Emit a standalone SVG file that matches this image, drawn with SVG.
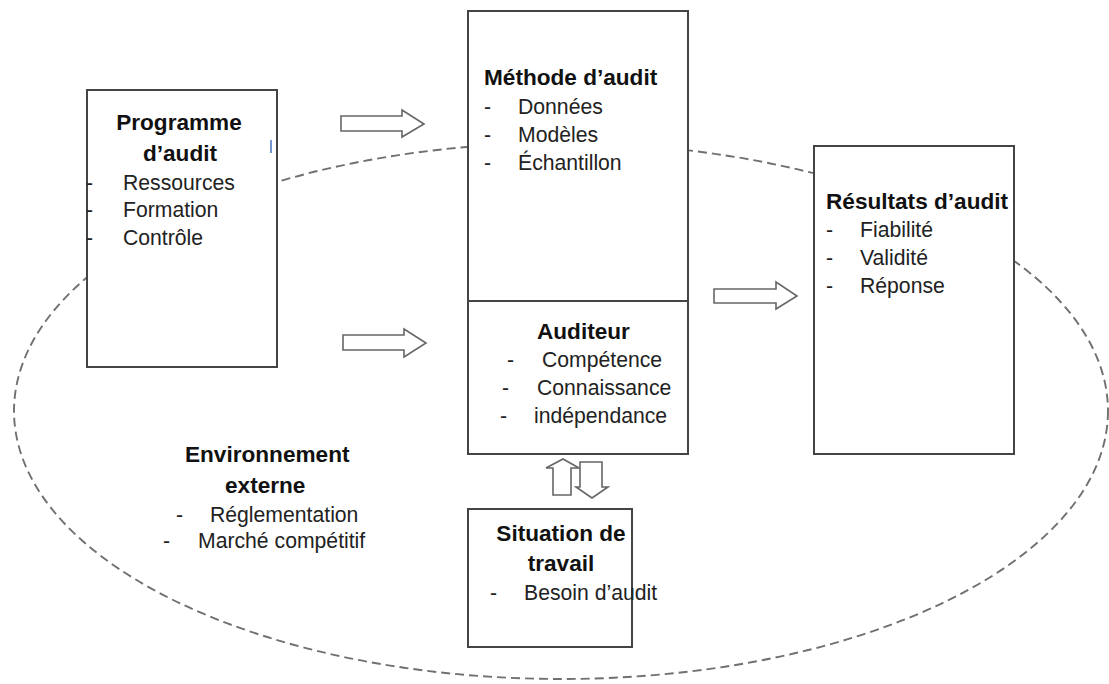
<svg xmlns="http://www.w3.org/2000/svg" width="1109" height="684" viewBox="0 0 1109 684">
<style>
.box{fill:#fff;stroke:#444;stroke-width:2}
.arr{fill:#fff;stroke:#666;stroke-width:1.6;stroke-linejoin:miter}
.env{fill:none;stroke:#707070;stroke-width:1.9;stroke-dasharray:9 5}
text{font-family:"Liberation Sans",Arial,sans-serif;fill:#111}
.h{font-size:22.6px;font-weight:bold}
.t{font-size:21.2px;fill:#222}
</style>
<rect width="1109" height="684" fill="#fff"/>
<g id="environnement">
<ellipse class="env" cx="561" cy="411" rx="547" ry="268"/>
<text class="h" x="185" y="462">Environnement</text>
<text class="h" x="225" y="493">externe</text>
<text class="t" x="176" y="522">-</text>
<text class="t" x="210" y="522">Réglementation</text>
<text class="t" x="163" y="548">-</text>
<text class="t" x="198" y="548">Marché compétitif</text>
</g>
<g id="programme">
<rect class="box" x="87" y="90" width="190" height="277"/>
<line x1="271" y1="140" x2="271" y2="153" stroke="#4472c4" stroke-width="1.5"/>
<text class="h" x="179" y="130" text-anchor="middle">Programme</text>
<text class="h" x="180" y="161" text-anchor="middle">d’audit</text>
<text class="t" x="86" y="190">-</text>
<text class="t" x="123" y="190">Ressources</text>
<text class="t" x="86" y="217">-</text>
<text class="t" x="123" y="217">Formation</text>
<text class="t" x="86" y="245">-</text>
<text class="t" x="123" y="245">Contrôle</text>
</g>
<g id="methode">
<rect class="box" x="468" y="11" width="220" height="443"/>
<line x1="468" y1="301" x2="688" y2="301" stroke="#444" stroke-width="2"/>
<text class="h" x="484" y="85">Méthode d’audit</text>
<text class="t" x="484" y="114">-</text>
<text class="t" x="518" y="114">Données</text>
<text class="t" x="484" y="142">-</text>
<text class="t" x="518" y="142">Modèles</text>
<text class="t" x="484" y="170">-</text>
<text class="t" x="518" y="170">Échantillon</text>
</g>
<g id="auditeur">
<text class="h" x="537" y="339">Auditeur</text>
<text class="t" x="507" y="367">-</text>
<text class="t" x="542" y="367">Compétence</text>
<text class="t" x="502" y="395">-</text>
<text class="t" x="537" y="395">Connaissance</text>
<text class="t" x="500" y="423">-</text>
<text class="t" x="534" y="423">indépendance</text>
</g>
<g id="resultats">
<rect class="box" x="814" y="146" width="200" height="308"/>
<text class="h" x="826" y="209">Résultats d’audit</text>
<text class="t" x="826" y="237">-</text>
<text class="t" x="860" y="237">Fiabilité</text>
<text class="t" x="826" y="265">-</text>
<text class="t" x="860" y="265">Validité</text>
<text class="t" x="826" y="293">-</text>
<text class="t" x="860" y="293">Réponse</text>
</g>
<g id="situation">
<rect class="box" x="468" y="509" width="164" height="138"/>
<text class="h" x="561" y="541" text-anchor="middle">Situation de</text>
<text class="h" x="561" y="571" text-anchor="middle">travail</text>
<text class="t" x="490" y="600">-</text>
<text class="t" x="524" y="600">Besoin d’audit</text>
</g>
<g id="connecteurs">
<polygon class="arr" points="341,116 402,116 402,110 424,124 402,137 402,131 341,131"/>
<polygon class="arr" points="343,335 404,335 404,329 426,343 404,357 404,350 343,350"/>
<polygon class="arr" points="714,289 776,289 776,282 797,296 776,309 776,303 714,303"/>
<polygon class="arr" points="553,495 553,468 546,468 563,459 579,468 571,468 571,495"/>
<polygon class="arr" points="580,462 602,462 602,487 608,487 592,498 576,487 580,487"/>
</g>
</svg>
